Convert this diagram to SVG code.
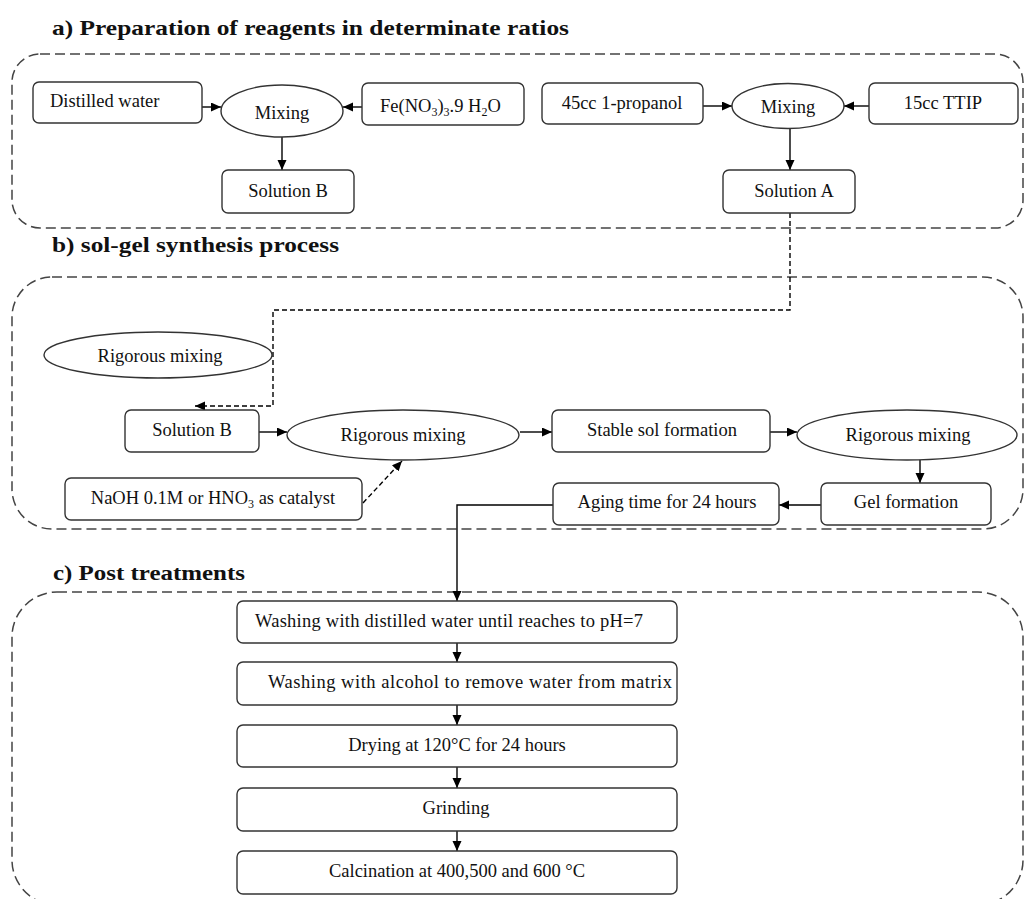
<svg xmlns="http://www.w3.org/2000/svg" width="1025" height="899" viewBox="0 0 1025 899">
<style>
text{font-family:"Liberation Serif","Times New Roman",serif;fill:#111;font-size:18.5px}
.title{font-weight:bold;font-size:21px}
.c{text-anchor:middle}
.box{fill:#fff;stroke:#333;stroke-width:1.4}
.cont{fill:none;stroke:#444;stroke-width:1.5;stroke-dasharray:10 5}
.e{fill:none;stroke:#000;stroke-width:1.4}
.ed{fill:none;stroke:#000;stroke-width:1.4;stroke-dasharray:5 3}
</style>
<defs>
<marker id="ah" markerWidth="11" markerHeight="10" refX="10" refY="4.5" orient="auto" markerUnits="userSpaceOnUse">
<path d="M0,0 L10,4.5 L0,9 z" fill="#000"/>
</marker>
</defs>
<rect width="1025" height="899" fill="#fff"/>

<g id="containers">
<rect class="cont" x="12" y="54" width="1011" height="174" rx="28"/>
<rect class="cont" x="12" y="277" width="1011" height="252" rx="40"/>
<rect class="cont" x="12" y="592" width="1011" height="313" rx="45"/>
</g>

<g id="titles">
<text class="title" x="52" y="35" textLength="517" lengthAdjust="spacingAndGlyphs">a) Preparation of reagents in determinate ratios</text>
<text class="title" x="52" y="252" textLength="287" lengthAdjust="spacingAndGlyphs">b) sol-gel synthesis process</text>
<text class="title" x="53" y="580" textLength="192" lengthAdjust="spacingAndGlyphs">c) Post treatments</text>
</g>

<g id="connectors">
<line class="e" x1="202" y1="107" x2="221" y2="107" marker-end="url(#ah)"/>
<line class="e" x1="362" y1="107" x2="343" y2="107" marker-end="url(#ah)"/>
<line class="e" x1="282" y1="137" x2="282" y2="170" marker-end="url(#ah)"/>
<line class="e" x1="703" y1="106" x2="732" y2="106" marker-end="url(#ah)"/>
<line class="e" x1="869" y1="106" x2="844" y2="106" marker-end="url(#ah)"/>
<line class="e" x1="790" y1="128" x2="790" y2="170" marker-end="url(#ah)"/>
<path class="ed" d="M790,213 V310 H273 V406 H195" marker-end="url(#ah)"/>
<line class="e" x1="259" y1="432" x2="287" y2="432" marker-end="url(#ah)"/>
<line class="ed" x1="363" y1="503" x2="402" y2="461" marker-end="url(#ah)"/>
<line class="e" x1="520" y1="432" x2="552" y2="432" marker-end="url(#ah)"/>
<line class="e" x1="770" y1="432" x2="797" y2="432" marker-end="url(#ah)"/>
<line class="e" x1="920" y1="460" x2="920" y2="483" marker-end="url(#ah)"/>
<line class="e" x1="821" y1="505" x2="779" y2="505" marker-end="url(#ah)"/>
<path class="e" d="M553,505 H457 V601" marker-end="url(#ah)"/>
<line class="e" x1="457" y1="643" x2="457" y2="662" marker-end="url(#ah)"/>
<line class="e" x1="457" y1="705" x2="457" y2="725" marker-end="url(#ah)"/>
<line class="e" x1="457" y1="767" x2="457" y2="788" marker-end="url(#ah)"/>
<line class="e" x1="457" y1="831" x2="457" y2="851" marker-end="url(#ah)"/>
</g>

<g id="n-distilled-water"><rect class="box" x="33" y="82" width="169" height="41" rx="6"/><text x="50" y="107">Distilled water</text></g>
<g id="n-mixing-1"><ellipse class="box" cx="282" cy="111" rx="61" ry="26"/><text class="c" x="282" y="119">Mixing</text></g>
<g id="n-fe"><rect class="box" x="362" y="83" width="162" height="42" rx="6"/><text x="380" y="112">Fe(NO<tspan font-size="12" dy="4">3</tspan><tspan dy="-4">)</tspan><tspan font-size="12" dy="4">3</tspan><tspan dy="-4">.9 H</tspan><tspan font-size="12" dy="4">2</tspan><tspan dy="-4">O</tspan></text></g>
<g id="n-solution-b-a"><rect class="box" x="222" y="170" width="132" height="43" rx="6"/><text class="c" x="288" y="197">Solution B</text></g>
<g id="n-propanol"><rect class="box" x="542" y="83" width="161" height="41" rx="6"/><text class="c" x="622" y="109">45cc 1-propanol</text></g>
<g id="n-mixing-2"><ellipse class="box" cx="788" cy="106" rx="56" ry="22.5"/><text class="c" x="788" y="113">Mixing</text></g>
<g id="n-ttip"><rect class="box" x="869" y="83" width="149" height="41" rx="6"/><text class="c" x="943" y="109">15cc TTIP</text></g>
<g id="n-solution-a"><rect class="box" x="723" y="170" width="132" height="43" rx="6"/><text class="c" x="794" y="197">Solution A</text></g>

<g id="n-rig-top"><ellipse class="box" cx="158" cy="355" rx="114" ry="23"/><text class="c" x="160" y="362">Rigorous mixing</text></g>
<g id="n-solution-b"><rect class="box" x="125" y="410" width="134" height="42" rx="6"/><text class="c" x="192" y="436">Solution B</text></g>
<g id="n-rig-mid"><ellipse class="box" cx="403" cy="435" rx="116" ry="25"/><text class="c" x="403" y="441">Rigorous mixing</text></g>
<g id="n-naoh"><rect class="box" x="65" y="478" width="297" height="42" rx="6"/><text class="c" x="213" y="504">NaOH 0.1M or HNO<tspan font-size="12" dy="4">3</tspan><tspan dy="-4"> as catalyst</tspan></text></g>
<g id="n-stable-sol"><rect class="box" x="552" y="410" width="218" height="42" rx="6"/><text class="c" x="662" y="436">Stable sol formation</text></g>
<g id="n-rig-right"><ellipse class="box" cx="907" cy="435" rx="110" ry="25"/><text class="c" x="908" y="441">Rigorous mixing</text></g>
<g id="n-gel"><rect class="box" x="821" y="483" width="170" height="42" rx="6"/><text class="c" x="906" y="508">Gel formation</text></g>
<g id="n-aging"><rect class="box" x="553" y="483" width="226" height="42" rx="6"/><text class="c" x="667" y="508">Aging time for 24 hours</text></g>

<g id="n-wash-water"><rect class="box" x="237" y="601" width="440" height="42" rx="6"/><text x="255" y="627" textLength="388" lengthAdjust="spacing">Washing with distilled water until reaches to pH=7</text></g>
<g id="n-wash-alcohol"><rect class="box" x="237" y="662" width="440" height="43" rx="6"/><text x="268" y="688" textLength="404" lengthAdjust="spacing">Washing with alcohol to remove water from matrix</text></g>
<g id="n-drying"><rect class="box" x="237" y="725" width="440" height="42" rx="6"/><text class="c" x="457" y="751">Drying at 120°C for 24 hours</text></g>
<g id="n-grinding"><rect class="box" x="237" y="788" width="440" height="43" rx="6"/><text class="c" x="456" y="814">Grinding</text></g>
<g id="n-calcination"><rect class="box" x="237" y="851" width="440" height="43" rx="6"/><text class="c" x="457" y="877">Calcination at 400,500 and 600 °C</text></g>
</svg>
